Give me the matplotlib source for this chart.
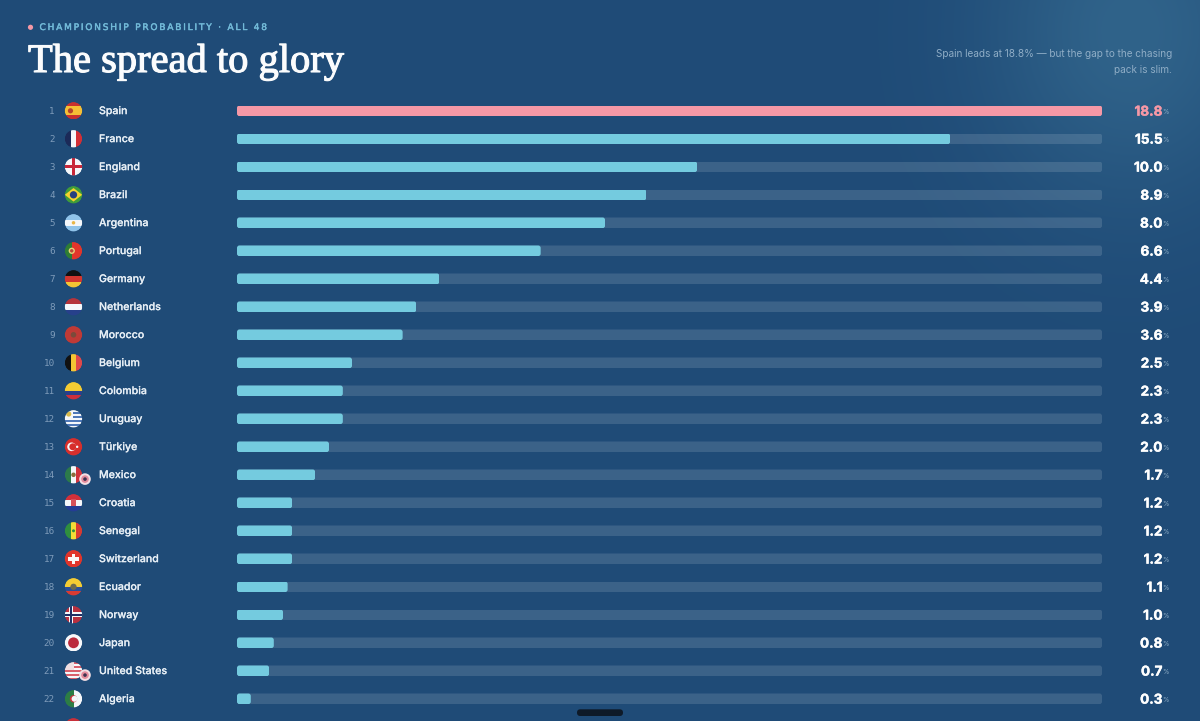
import numpy as np
import matplotlib
matplotlib.use("Agg")
import matplotlib.pyplot as plt
import matplotlib.patheffects as pe
from matplotlib.patches import Circle, Rectangle, Polygon, FancyBboxPatch

countries = ["Spain", "France", "England", "Brazil", "Argentina", "Portugal", "Germany",
             "Netherlands", "Morocco", "Belgium", "Colombia", "Uruguay", "Türkiye", "Mexico",
             "Croatia", "Senegal", "Switzerland", "Ecuador", "Norway", "Japan",
             "United States", "Algeria"]
probabilities = [18.8, 15.5, 10.0, 8.9, 8.0, 6.6, 4.4, 3.9, 3.6, 2.5, 2.3, 2.3, 2.0, 1.7,
                 1.2, 1.2, 1.2, 1.1, 1.0, 0.8, 0.7, 0.3]
hosts = ["Mexico", "United States"]
eyebrow = "CHAMPIONSHIP PROBABILITY · ALL 48"
title = "The spread to glory"
subtitle = "Spain leads at 18.8% — but the gap to the chasing\npack is slim."

W, H = 1200, 721
ROW0, STEP = 110.8, 28.0
BAR_L, BAR_R = 237.0, 1102.0
BAR_H = 10.6
XMAX = 18.8
BG = (0x1f, 0x4b, 0x77)
BGHEX = "#%02x%02x%02x" % BG
PINK, CYAN = "#f598a6", "#74cbdf"
SANS = ["Inter", "DejaVu Sans"]

fig = plt.figure(figsize=(W / 100, H / 100), dpi=100)

# background glow
bg = fig.add_axes([0, 0, 1, 1], zorder=0)
bg.axis("off")
yy, xx = np.mgrid[0:H, 0:W]
glow = np.exp(-(((xx - 1130) / 100.0) ** 2 + ((yy - 30) / 120.0) ** 2) / 2)
img = np.zeros((H, W, 3))
base = np.array(BG) / 255
top = np.array((0x30, 0x63, 0x8a)) / 255
for c in range(3):
    img[..., c] = base[c] + (top[c] - base[c]) * glow
bg.imshow(img, extent=(0, W, H, 0), aspect="auto", interpolation="bilinear")
bg.set_xlim(0, W)
bg.set_ylim(H, 0)

# bars: x in percent, y in row index
ax = fig.add_axes([BAR_L / W, 0, (BAR_R - BAR_L) / W, 1], zorder=1)
ax.patch.set_alpha(0)
ax.axis("off")
ax.set_xlim(0, XMAX)
ax.set_ylim((H - ROW0) / STEP, -ROW0 / STEP)
rows = np.arange(len(countries))
h = BAR_H / STEP
px_x = XMAX / (BAR_R - BAR_L)
aspect = (1 / STEP) / px_x


def round_bars(bars, radius=2.5):
    for b in bars:
        clip = FancyBboxPatch((b.get_x(), b.get_y()), b.get_width(), b.get_height(),
                              boxstyle=f"round,pad=0,rounding_size={radius * px_x}",
                              mutation_aspect=aspect, transform=ax.transData)
        b.set_clip_path(clip)


round_bars(ax.barh(rows, [XMAX] * len(rows), height=h, color="white", alpha=0.13, linewidth=0))
colors = [PINK if i == 0 else CYAN for i in rows]
round_bars(ax.barh(rows, probabilities, height=h, color=colors, linewidth=0))

# overlay in pixel coordinates for header, labels and flags
ov = fig.add_axes([0, 0, 1, 1], zorder=2)
ov.patch.set_alpha(0)
ov.axis("off")
ov.set_xlim(0, W)
ov.set_ylim(H, 0)
FS = 0.72  # px -> pt at 100 dpi

ov.add_patch(Circle((30.5, 27.3), 2.6, color=PINK, lw=0))
ov.text(39.5, 27.5, "\u2009".join(eyebrow), color="#72bad8", fontsize=9 * FS, family=["DejaVu Sans"],
        va="center", ha="left",
        path_effects=[pe.withStroke(linewidth=0.3, foreground="#72bad8")])
ov.text(28, 72, title, color="#fbfcfd", fontsize=40.5 * FS, family=["Liberation Serif"],
        va="baseline", ha="left",
        path_effects=[pe.withStroke(linewidth=0.8, foreground="#fbfcfd")])
ov.text(1172, 62.3, subtitle, color="#8fadc6", fontsize=10 * FS, family=SANS, ha="right",
        va="center", linespacing=1.75, multialignment="right")


def flag(name, cx, cy, r=8.7):
    clip = Circle((cx, cy), r + 0.3, transform=ov.transData)
    items = []

    def rect(x0, y0, x1, y1, col):
        items.append(Rectangle((cx + x0 * r, cy + y0 * r), (x1 - x0) * r, (y1 - y0) * r,
                               color=col, lw=0))

    def hs(cols, w=None):
        w = w or [1] * len(cols)
        edges = np.cumsum([0] + list(w)) / sum(w) * 2 - 1
        for a, b, col in zip(edges[:-1], edges[1:], cols):
            rect(-1.1, a, 1.1, b, col)

    def vs(cols, w=None):
        w = w or [1] * len(cols)
        edges = np.cumsum([0] + list(w)) / sum(w) * 2 - 1
        for a, b, col in zip(edges[:-1], edges[1:], cols):
            rect(a, -1.1, b, 1.1, col)

    def dot(x, y, rad, col):
        items.append(Circle((cx + x * r, cy + y * r), rad * r, color=col, lw=0))

    if name == "Spain":
        hs(["#c8312f", "#f4bf35", "#c8312f"], [1, 2, 1])
        dot(-0.35, 0, 0.3, "#b5432c")
    elif name == "France":
        vs(["#1b2a58", "#f5f7fa", "#d32f36"])
    elif name == "England":
        hs(["#f5f7fa"])
        rect(-1.1, -0.18, 1.1, 0.18, "#c8283a")
        rect(-0.18, -1.1, 0.18, 1.1, "#c8283a")
    elif name == "Brazil":
        hs(["#3f9c3a"])
        items.append(Polygon([(cx - r, cy), (cx, cy - 0.78 * r), (cx + r, cy), (cx, cy + 0.78 * r)],
                             color="#f5d32e", lw=0))
        dot(0, 0, 0.42, "#27407f")
    elif name == "Argentina":
        hs(["#8fc3ea", "#f5f7fa", "#8fc3ea"])
        dot(0, 0, 0.2, "#e8b748")
    elif name == "Portugal":
        vs(["#2e7d35", "#e2352b"], [2, 3])
        dot(-0.2, 0, 0.36, "#e6d27a")
        dot(-0.2, 0, 0.2, "#b9473a")
    elif name == "Germany":
        hs(["#111111", "#d2362f", "#f4c534"])
    elif name == "Netherlands":
        hs(["#b5343c", "#f5f7fa", "#27408b"])
    elif name == "Morocco":
        hs(["#bf3a36"])
        dot(0, 0, 0.32, "#7b4a3a")
    elif name == "Belgium":
        vs(["#111111", "#f4c534", "#e0484a"])
    elif name == "Colombia":
        hs(["#f4cc33", "#2a3f8d", "#ce2f3c"], [2, 1, 1])
    elif name == "Uruguay":
        hs(["#f5f7fa", "#4f78b8"] * 4 + ["#f5f7fa"])
        rect(-1.1, -1.1, -0.1, -0.1, "#f5f7fa")
        dot(-0.55, -0.55, 0.3, "#d8bb4c")
    elif name == "Türkiye":
        hs(["#d72f2c"])
        dot(-0.22, 0, 0.5, "#f5f7fa")
        dot(-0.08, 0, 0.4, "#d72f2c")
        dot(0.42, 0, 0.14, "#f5f7fa")
    elif name == "Mexico":
        vs(["#2c7a4b", "#f5f7fa", "#d0343d"])
        dot(0, 0, 0.26, "#8a6d3b")
    elif name == "Croatia":
        hs(["#d3303a", "#f5f7fa", "#243c95"])
        rect(-0.28, -0.38, 0.28, 0.38, "#d8505a")
    elif name == "Senegal":
        vs(["#2f8f3e", "#f3dc36", "#d83a32"])
        dot(0, 0, 0.17, "#2f8f3e")
    elif name == "Switzerland":
        hs(["#e0352b"])
        rect(-0.58, -0.2, 0.58, 0.2, "#f8f8f8")
        rect(-0.2, -0.58, 0.2, 0.58, "#f8f8f8")
    elif name == "Ecuador":
        hs(["#f4cc33", "#2a4f99", "#d83b33"], [2, 1, 1])
        dot(0, 0, 0.36, "#6d6a4d")
    elif name == "Norway":
        hs(["#b9303f"])
        rect(-1.1, -0.27, 1.1, 0.27, "#f5f7fa")
        rect(-0.55, -1.1, -0.01, 1.1, "#f5f7fa")
        rect(-1.1, -0.12, 1.1, 0.12, "#1f2f66")
        rect(-0.4, -1.1, -0.16, 1.1, "#1f2f66")
    elif name == "Japan":
        hs(["#f7f8fa"])
        dot(0, 0, 0.62, "#bb2a3c")
    elif name == "United States":
        hs(["#d8606c", "#f5f7fa"] * 4 + ["#d8606c"])
        rect(-1.1, -1.1, 0, -0.05, "#f0dfe2")
    elif name == "Algeria":
        vs(["#2c7d45", "#f5f7fa"])
        dot(0, 0, 0.42, "#c8343c")
        dot(0.12, 0, 0.34, "#f5f7fa")
    else:
        hs(["#c8303a"])
    for it in items:
        ov.add_patch(it)
        it.set_clip_path(clip)
    # soft edge over the aliased clip
    ov.add_patch(Circle((cx, cy), r + 0.55, fill=False, edgecolor=BGHEX, lw=0.8))


for i, (name, val) in enumerate(zip(countries, probabilities)):
    y = ROW0 + STEP * i
    val_col = PINK if i == 0 else "#ffffff"
    ov.text(55, y + 0.2, str(i + 1), color="#7f9cba", fontsize=9.3 * FS, family=["DejaVu Sans Mono"],
            ha="right", va="center")
    flag(name, 73.5, y)
    ov.text(99, y + 0.3, name, color="#e6eef5", fontsize=10.6 * FS, family=SANS, weight="medium",
            ha="left", va="center",
            path_effects=[pe.withStroke(linewidth=0.12, foreground="#e6eef5")])
    ov.text(1162.5, y + 0.8, f"{val:.1f}", color=val_col, fontsize=13.5 * FS,
            family=SANS, weight="bold", ha="right", va="center",
            path_effects=[pe.withStroke(linewidth=0.3, foreground=val_col)])
    ov.text(1162, y + 1.6, "%", color="#8fadc6", fontsize=6.5 * FS, family=SANS, ha="left", va="center")
    if name in hosts:
        bx, by = 85, y + 4.3
        ov.add_patch(Circle((bx, by), 5.8, color="#f3dfe4", lw=0))
        ov.add_patch(Circle((bx, by), 3.8, color="#e58b9c", lw=0))
        ov.add_patch(Circle((bx, by), 1.8, color="#3f3350", lw=0))

# next, cropped row
flag("", 73.5, ROW0 + STEP * len(countries))

# bottom scroll handle
ov.add_patch(FancyBboxPatch((577, 709.3), 46, 6.7, boxstyle="round,pad=0,rounding_size=3.3",
                            color="#0e1a28", lw=0))

fig.savefig("out.png", dpi=100, facecolor=BGHEX)
